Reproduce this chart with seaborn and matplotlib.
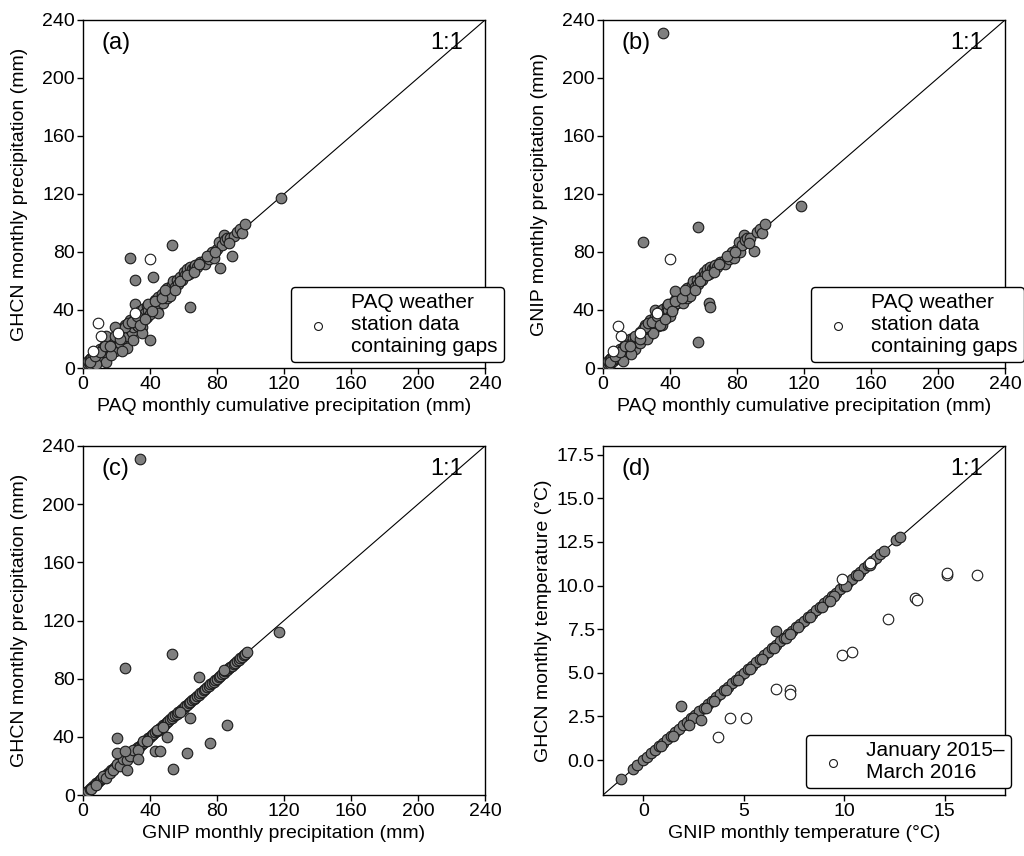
import matplotlib
matplotlib.use("Agg")
import matplotlib.pyplot as plt
import seaborn as sns
import pandas as pd

sns.set_theme(style="ticks")
plt.rcParams['font.family'] = ['Liberation Sans', 'DejaVu Sans']
plt.rcParams['text.color'] = 'black'
plt.rcParams['axes.labelcolor'] = 'black'
plt.rcParams['xtick.color'] = 'black'
plt.rcParams['ytick.color'] = 'black'

# ---------------- data ----------------
# Panel (a): PAQ (x) vs GHCN (y), mm
a_grey_x = [2, 3, 3, 4, 4, 5, 5, 6, 6, 7, 7, 8, 8, 9, 9, 10, 10, 11, 11, 12, 12, 13, 13, 14, 14, 15, 15, 16, 16, 17, 18, 18, 19, 19, 20, 20,
            21, 22, 22, 23, 24, 24, 25, 25, 26, 27, 27, 28, 28, 29, 30, 30, 31, 31, 32, 32, 33, 33, 34, 34, 35, 35, 36, 36, 37, 38, 38, 39, 40, 40, 41, 42, 43, 44, 44, 45,
            46, 47, 48, 49, 50, 50, 51, 52, 53, 53, 54, 55, 56, 57, 58, 59, 60, 61, 62, 63, 64, 64, 65, 66, 67, 68, 70, 72, 73, 75, 76, 77, 78, 80, 81, 82, 83, 84, 85, 86, 88, 89, 90, 92, 94, 95, 97, 118,
            28, 31, 42, 26, 19, 23, 35, 14, 17, 30, 8, 45,
            4, 7, 10, 13, 16, 19, 22, 25, 27, 29, 32, 34, 37, 39, 41, 43, 47, 49, 55, 58, 62, 66, 69, 74, 79, 87]
a_grey_y = [2, 3, 5, 3, 6, 4, 7, 5, 8, 6, 9, 7, 10, 8, 12, 9, 13, 10, 7, 12, 14, 11, 16, 13, 4, 15, 18, 14, 20, 17, 16, 21, 19, 12, 22, 18,
            20, 25, 17, 23, 27, 21, 30, 24, 26, 29, 22, 33, 27, 25, 31, 28, 35, 44, 30, 34, 37, 29, 32, 39, 36, 28, 41, 34, 38, 35, 43, 40, 19, 37, 44, 42, 47, 45, 40, 49,
            47, 51, 45, 52, 55, 48, 53, 50, 57, 85, 60, 56, 61, 58, 63, 61, 66, 64, 68, 65, 42, 70, 68, 69, 71, 70, 73, 74, 72, 75, 78, 80, 76, 82, 87, 69, 85, 92, 88, 90, 90, 77, 91, 94, 96, 93, 99, 117,
            76, 61, 63, 14, 28, 12, 24, 22, 9, 19, 3, 38,
            4, 8, 11, 15, 15, 22, 20, 28, 31, 32, 36, 30, 34, 44, 39, 46, 48, 54, 54, 60, 64, 66, 72, 77, 80, 86]
a_open_x = [6, 9, 11, 21, 31, 40]
a_open_y = [12, 31, 22, 24, 38, 75]

# Panel (b): PAQ (x) vs GNIP (y), mm
b_grey_x = [2, 3, 3, 4, 4, 5, 5, 6, 6, 7, 7, 8, 8, 9, 9, 10, 10, 11, 11, 12, 12, 13, 13, 14, 15, 15, 16, 16, 17, 18, 18, 19, 19, 20, 20,
            21, 22, 22, 23, 24, 24, 25, 25, 26, 27, 27, 28, 28, 29, 30, 30, 31, 31, 32, 32, 33, 33, 34, 34, 35, 35, 36, 36, 37, 38, 38, 39, 40, 40, 41, 42, 43, 44, 45,
            46, 47, 48, 49, 50, 50, 51, 52, 53, 54, 55, 56, 57, 58, 59, 60, 61, 62, 63, 64, 65, 66, 67, 68, 70, 72, 73, 75, 76, 77, 78, 80, 81, 82, 83, 84, 85, 86, 88, 90, 92, 94, 95, 97, 118,
            24, 57, 36, 63, 64, 57, 43, 26, 30, 17, 12,
            4, 7, 10, 13, 16, 19, 22, 25, 27, 29, 32, 34, 37, 39, 41, 43, 47, 49, 55, 58, 62, 66, 69, 74, 79, 87]
b_grey_y = [2, 3, 5, 3, 6, 4, 7, 5, 8, 6, 9, 7, 10, 8, 12, 9, 13, 10, 7, 12, 14, 11, 16, 13, 15, 18, 14, 20, 17, 16, 21, 19, 13, 22, 18,
            20, 25, 17, 23, 27, 21, 30, 24, 26, 29, 22, 33, 27, 25, 31, 28, 35, 40, 30, 34, 37, 29, 32, 39, 36, 30, 41, 34, 38, 35, 43, 40, 36, 44, 44, 42, 47, 45, 49,
            47, 51, 45, 52, 55, 48, 53, 50, 57, 60, 56, 61, 58, 63, 61, 66, 64, 68, 65, 70, 68, 69, 71, 70, 73, 74, 72, 75, 78, 80, 76, 82, 87, 80, 85, 92, 88, 90, 90, 81, 94, 96, 93, 99, 112,
            87, 97, 231, 45, 42, 18, 53, 20, 24, 10, 5,
            4, 8, 11, 15, 15, 22, 20, 28, 31, 32, 36, 30, 34, 44, 39, 46, 48, 54, 54, 60, 64, 66, 72, 77, 80, 86]
b_open_x = [6, 9, 11, 22, 32, 40]
b_open_y = [12, 29, 22, 24, 38, 75]

# Panel (c): GNIP (x) vs GHCN (y), mm
c_grey_x = [2, 3, 4, 5, 6, 7, 8, 9, 10, 11, 12, 13, 14, 15, 16, 17, 18, 19, 20, 21, 22, 23, 24, 25, 26, 27, 28, 29, 30, 31, 32, 33, 34, 35, 36, 37, 38, 39, 40,
            41, 42, 43, 44, 45, 46, 47, 48, 49, 50, 51, 52, 53, 54, 55, 56, 57, 58, 59, 60, 61, 62, 63, 64, 65, 66, 67, 68, 69, 70, 71, 72, 73, 74, 75, 76, 77, 78,
            79, 80, 81, 82, 83, 84, 85, 86, 87, 88, 89, 90, 91, 92, 93, 94, 95, 96, 97, 98, 117,
            5, 8, 12, 14, 16, 18, 20, 22, 24, 26, 28, 30, 33, 36, 38, 44, 48, 58, 84,
            25, 53, 34, 69, 64, 86, 76, 62, 54, 43, 46, 50, 20, 20, 25, 26, 33]
c_grey_y = [2, 3, 4, 5, 6, 7, 8, 9, 10, 11, 12, 13, 14, 15, 16, 17, 18, 19, 20, 21, 22, 23, 24, 25, 26, 27, 28, 29, 30, 31, 32, 33, 34, 35, 36, 37, 38, 39, 40,
            41, 42, 43, 44, 45, 46, 47, 48, 49, 50, 51, 52, 53, 54, 55, 56, 57, 58, 59, 60, 61, 62, 63, 64, 65, 66, 67, 68, 69, 70, 71, 72, 73, 74, 75, 76, 77, 78,
            79, 80, 81, 82, 83, 84, 85, 86, 87, 88, 89, 90, 91, 92, 93, 94, 95, 96, 97, 98, 112,
            4, 7, 13, 12, 15, 17, 21, 20, 25, 24, 27, 31, 31, 37, 37, 45, 47, 57, 86,
            87, 97, 231, 81, 53, 48, 36, 29, 18, 30, 30, 40, 39, 29, 30, 17, 25]

# Panel (d): GNIP (x) vs GHCN (y), degC
d_grey_x = [-1.1, -0.5, -0.3, 0.0, 0.2, 0.4, 0.6, 0.8, 1.0, 1.2, 1.4, 1.6, 1.8, 2.0, 2.2, 2.4, 2.6, 2.8, 3.0, 3.2, 3.4, 3.6, 3.8, 4.0, 4.2, 4.4,
            4.6, 4.8, 5.0, 5.2, 5.4, 5.6, 5.8, 6.0, 6.2, 6.4, 6.6, 6.8, 7.0, 7.2, 7.4, 7.6, 7.8, 8.0, 8.2, 8.4, 8.6, 8.8, 9.0, 9.2, 9.4, 9.6,
            9.8, 10.0, 10.2, 10.4, 10.6, 10.8, 11.0, 11.2, 11.4, 11.6, 11.8, 12.0, 12.6, 12.8,
            0.9, 1.5, 2.5, 3.1, 3.5, 4.1, 4.7, 5.3, 5.9, 6.5, 7.1, 7.7, 8.3, 8.9, 9.5, 10.1, 10.7, 11.3,
            6.6, 1.9, 2.9, 2.3, 7.3, 9.3]
d_grey_y = [-1.1, -0.5, -0.3, 0.0, 0.2, 0.4, 0.6, 0.8, 1.0, 1.2, 1.4, 1.6, 1.8, 2.0, 2.2, 2.4, 2.6, 2.8, 3.0, 3.2, 3.4, 3.6, 3.8, 4.0, 4.2, 4.4,
            4.6, 4.8, 5.0, 5.2, 5.4, 5.6, 5.8, 6.0, 6.2, 6.4, 6.6, 6.8, 7.0, 7.2, 7.4, 7.6, 7.8, 8.0, 8.2, 8.4, 8.6, 8.8, 9.0, 9.2, 9.4, 9.6,
            9.8, 10.0, 10.2, 10.4, 10.6, 10.8, 11.0, 11.2, 11.4, 11.6, 11.8, 12.0, 12.6, 12.8,
            0.8, 1.4, 2.4, 3.0, 3.4, 4.0, 4.6, 5.2, 5.8, 6.4, 7.0, 7.6, 8.2, 8.8, 9.4, 10.0, 10.6, 11.2,
            7.4, 3.1, 2.3, 2.0, 7.2, 9.1]
d_open_x = [15.1, 15.1, 16.6, 13.5, 13.6, 12.2, 11.3, 9.9, 6.6, 7.3, 7.3, 4.3, 5.1, 3.7, 9.9, 10.4]
d_open_y = [10.6, 10.7, 10.6, 9.3, 9.2, 8.1, 11.3, 10.4, 4.1, 4.0, 3.8, 2.4, 2.4, 1.3, 6.0, 6.2]

panel_labels = ["(a)", "(b)", "(c)", "(d)"]
x_labels = ["PAQ monthly cumulative precipitation (mm)",
            "PAQ monthly cumulative precipitation (mm)",
            "GNIP monthly precipitation (mm)",
            "GNIP monthly temperature (°C)"]
y_labels = ["GHCN monthly precipitation (mm)",
            "GNIP monthly precipitation (mm)",
            "GHCN monthly precipitation (mm)",
            "GHCN monthly temperature (°C)"]
gap_label = "PAQ weather\nstation data\ncontaining gaps"
period_label = "January 2015–\nMarch 2016"
precip_ticks = [0, 40, 80, 120, 160, 200, 240]
temp_xticks = [0, 5, 10, 15]
temp_yticks = [0.0, 2.5, 5.0, 7.5, 10.0, 12.5, 15.0, 17.5]

# ---------------- figure ----------------
FS = 14
fig = plt.figure(figsize=(10.24, 8.56), dpi=100)
W, H = 1024, 856
def box(x0, y0, x1, y1):
    return [x0 / W, 1 - y1 / H, (x1 - x0) / W, (y1 - y0) / H]

axes = [fig.add_axes(box(83, 20, 485, 368)),
        fig.add_axes(box(603, 20, 1005, 368)),
        fig.add_axes(box(83, 446, 485, 795)),
        fig.add_axes(box(603, 446, 1005, 795))]

grey_sets = [(a_grey_x, a_grey_y), (b_grey_x, b_grey_y), (c_grey_x, c_grey_y), (d_grey_x, d_grey_y)]
open_sets = [(a_open_x, a_open_y), (b_open_x, b_open_y), None, (d_open_x, d_open_y)]
open_labels = [gap_label, gap_label, None, period_label]
ylabel_pads = [10, 10, 10, 3]

for i, ax in enumerate(axes):
    lo, hi = (-2, 18) if i == 3 else (0, 240)
    ax.set_xlim(lo, hi)
    ax.set_ylim(lo, hi)
    ax.axline((0, 0), slope=1, color="black", lw=0.8, zorder=1)
    gx, gy = grey_sets[i]
    sns.scatterplot(x=gx, y=gy, ax=ax, color="#7f7f7f", edgecolor="#1a1a1a",
                    linewidth=0.8, s=58, zorder=3, legend=False)
    if open_sets[i] is not None:
        ox, oy = open_sets[i]
        sns.scatterplot(x=ox, y=oy, ax=ax, color="white", edgecolor="#1a1a1a",
                        linewidth=0.8, s=58, zorder=4, label=open_labels[i])
    if i == 3:
        ax.set_xticks(temp_xticks)
        ax.set_yticks(temp_yticks)
        ax.set_yticklabels([f"{v:.1f}" for v in temp_yticks])
    else:
        ax.set_xticks(precip_ticks)
        ax.set_yticks(precip_ticks)
    ax.set_xlabel(x_labels[i], fontsize=FS, labelpad=3)
    ax.set_ylabel(y_labels[i], fontsize=FS, labelpad=ylabel_pads[i])
    ax.tick_params(axis="both", labelsize=FS, direction="out", length=4, width=1,
                   color="black", labelcolor="black", pad=2, top=False, right=False)
    for sp in ax.spines.values():
        sp.set_visible(True)
        sp.set_color("black")
        sp.set_linewidth(1.0)
    ax.text(0.045, 0.935, panel_labels[i], transform=ax.transAxes, fontsize=17,
            ha="left", va="center", color="black")
    ax.text(0.905, 0.935, "1:1", transform=ax.transAxes, fontsize=17,
            ha="center", va="center", color="black")
    if open_sets[i] is not None:
        anchor = (1.015, 0.02) if i == 3 else (1.047, 0.017)
        leg = ax.legend(loc="lower right", bbox_to_anchor=anchor, fontsize=FS + 1,
                        frameon=True, fancybox=True, markerscale=0.75,
                        handletextpad=0.6, borderpad=0.3, labelspacing=0.2,
                        handlelength=2.0, borderaxespad=0)
        leg.get_frame().set_edgecolor("black")
        leg.get_frame().set_linewidth(1.0)
        leg.get_frame().set_alpha(1)
        leg.set_zorder(10)
        for t in leg.get_texts():
            t.set_color("black")

fig.savefig("out.png", dpi=100)
